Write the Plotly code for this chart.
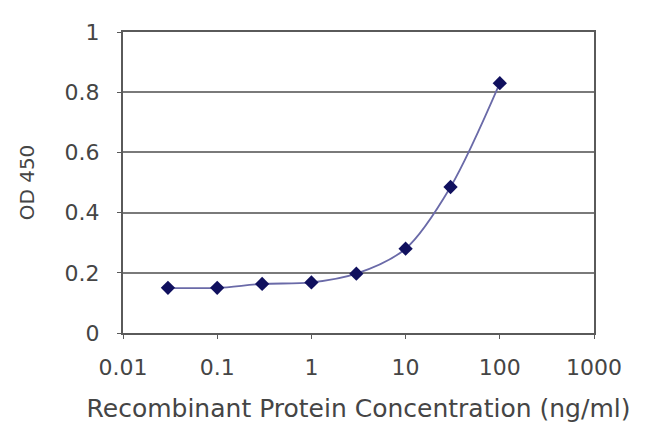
import plotly.graph_objects as go

conc = [0.03, 0.1, 0.3, 1, 3, 10, 30, 100]
od450 = [0.150, 0.150, 0.163, 0.168, 0.197, 0.280, 0.485, 0.830]
x_ticks = [0.01, 0.1, 1, 10, 100, 1000]
x_tick_text = ["0.01", "0.1", "1", "10", "100", "1000"]
y_ticks = [0, 0.2, 0.4, 0.6, 0.8, 1]
y_tick_text = ["0", "0.2", "0.4", "0.6", "0.8", "1"]

fig = go.Figure()
fig.add_trace(go.Scatter(
    x=conc, y=od450, mode="lines+markers",
    line=dict(color="#6a6aa8", width=1.8, shape="spline", smoothing=0.9),
    marker=dict(symbol="diamond", size=11, color="#10105e"),
    showlegend=False,
))

font_col = "#454545"
# page body adds an 8px offset, so the figure is sized/margined to compensate
fig.update_layout(
    width=642, height=426,
    margin=dict(l=115, r=56, t=19, b=101),
    paper_bgcolor="white", plot_bgcolor="white",
    font=dict(family="DejaVu Sans, sans-serif", color=font_col, size=22),
)
fig.update_xaxes(
    type="log", range=[-2, 3],
    tickvals=x_ticks, ticktext=x_tick_text,
    showgrid=False, zeroline=False,
    showline=True, linecolor="#5a5a5a", linewidth=2, mirror=True,
    ticks="outside", ticklen=4, tickcolor="#5a5a5a",
    ticklabelstandoff=10,
    title=dict(text="Recombinant Protein Concentration (ng/ml)", font=dict(size=25, color=font_col), standoff=20),
)
fig.update_yaxes(
    range=[0, 1], tickvals=y_ticks, ticktext=y_tick_text,
    showgrid=True, gridcolor="#7a7a7a", gridwidth=2, zeroline=False,
    showline=True, linecolor="#5a5a5a", linewidth=2, mirror=True,
    ticks="outside", ticklen=4, tickcolor="#5a5a5a",
    ticklabelstandoff=13,
    title=dict(text="OD 450", font=dict(size=20, color=font_col), standoff=25),
)
fig.write_html("out.html")
